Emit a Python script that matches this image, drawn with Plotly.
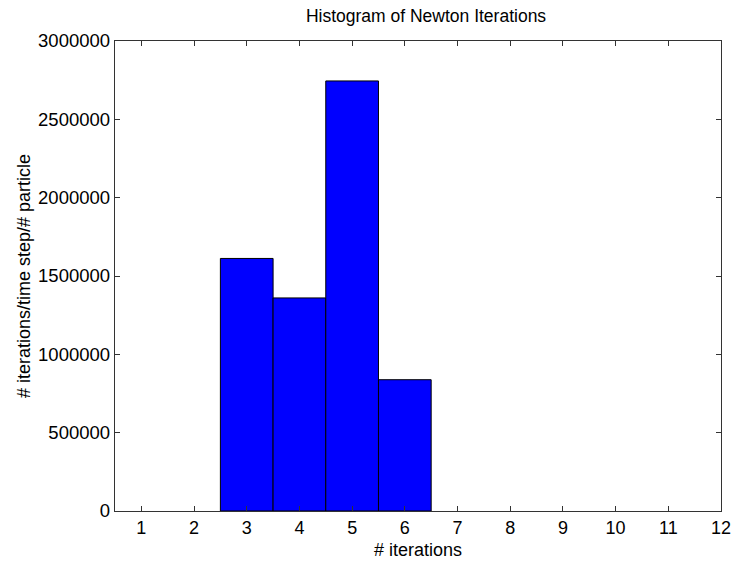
import plotly.graph_objects as go

iterations = [3, 4, 5, 6]
counts = [1612000, 1360000, 2745000, 838000]
x_ticks = list(range(1, 13))
y_ticks = [0, 500000, 1000000, 1500000, 2000000, 2500000, 3000000]

W, H = 740, 565

fig = go.Figure()
fig.add_trace(go.Bar(
    x=iterations, y=counts, width=1,
    marker=dict(color="#0000ff", line=dict(color="black", width=1)),
))

font = "Liberation Sans, Arial, sans-serif"
fig.update_layout(
    width=W, height=H,
    margin=dict(l=115, r=9, t=41, b=49),
    paper_bgcolor="white", plot_bgcolor="white",
    showlegend=False,
    font=dict(family=font, size=18, color="black"),
    title=dict(text="Histogram of Newton Iterations", x=426 / W, xanchor="center",
               y=1 - 16 / H, yanchor="middle", font=dict(size=17.5)),
    bargap=0,
)
fig.update_xaxes(
    range=[0.5, 12], tickvals=x_ticks, ticktext=[str(v) for v in x_ticks],
    ticks="inside", ticklen=5, tickcolor="#333", mirror="allticks",
    tickfont=dict(size=18), ticklabeloverflow="allow",
    showline=True, linecolor="#333", linewidth=1.2, showgrid=False, zeroline=False,
    title=dict(text="# iterations", standoff=6, font=dict(size=18)),
)
fig.update_yaxes(
    range=[0, 3000000], tickvals=y_ticks, ticktext=[str(v) for v in y_ticks],
    ticks="inside", ticklen=5, tickcolor="#333", mirror="allticks",
    tickfont=dict(size=18.5),
    showline=True, linecolor="#333", linewidth=1.2, showgrid=False, zeroline=False,
    title=dict(text="# iterations/time step/# particle", standoff=2, font=dict(size=18)),
)
fig.write_html(
    "out.html",
    config={"displayModeBar": False, "staticPlot": True},
    post_script="document.body.style.margin='0';document.body.style.padding='0';"
                "document.documentElement.style.overflow='hidden';",
)
